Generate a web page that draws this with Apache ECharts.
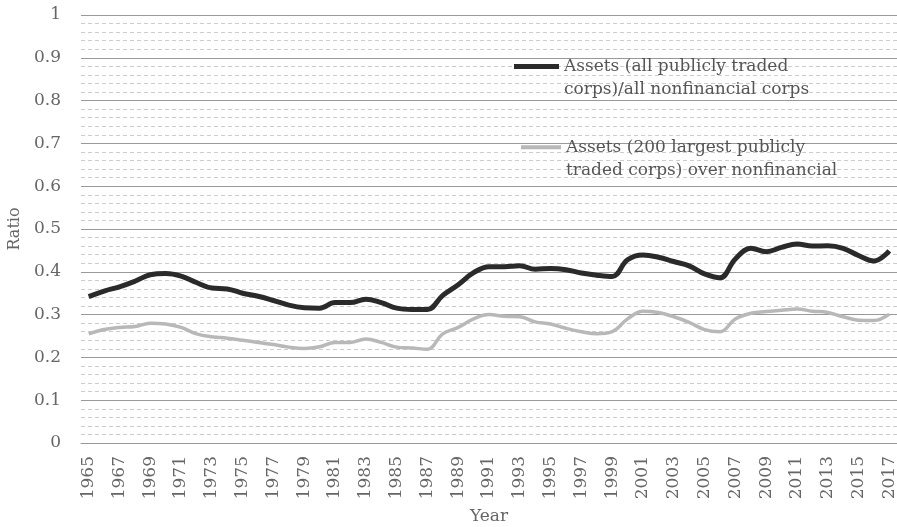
<!DOCTYPE html>
<html>
<head>
<meta charset="utf-8">
<script src="https://cdn.jsdelivr.net/npm/echarts@6/dist/echarts.min.js"></script>
<style>
  html, body { margin: 0; padding: 0; background: #fff; }
  #chart-dom { width: 897px; height: 527px; }
</style>
</head>
<body>
<div id="chart-dom"></div>
<script>
  // years on the x axis
  const years = [];
  for (let y = 1965; y <= 2017; y++) years.push(String(y));

  // Assets (all publicly traded corps)/all nonfinancial corps
  const allTraded = [
    0.342, 0.355, 0.365, 0.378, 0.393, 0.396, 0.390, 0.375, 0.362, 0.360,
    0.350, 0.343, 0.333, 0.322, 0.316, 0.315, 0.328, 0.328, 0.336, 0.328,
    0.315, 0.312, 0.312, 0.345, 0.370, 0.398, 0.412, 0.412, 0.414, 0.406,
    0.408, 0.405, 0.397, 0.392, 0.389, 0.428, 0.439, 0.434, 0.424, 0.414,
    0.395, 0.386, 0.430, 0.455, 0.447, 0.457, 0.465, 0.460, 0.461, 0.455,
    0.438, 0.425, 0.449
  ];

  // Assets (200 largest publicly traded corps) over nonfinancial
  const top200 = [
    0.255, 0.265, 0.270, 0.272, 0.280, 0.278, 0.270, 0.255, 0.248, 0.245,
    0.240, 0.235, 0.230, 0.224, 0.221, 0.225, 0.235, 0.235, 0.243, 0.235,
    0.224, 0.222, 0.219, 0.255, 0.270, 0.290, 0.300, 0.296, 0.295, 0.283,
    0.278, 0.268, 0.260, 0.255, 0.260, 0.290, 0.308, 0.305, 0.295, 0.282,
    0.265, 0.260, 0.290, 0.303, 0.307, 0.310, 0.313, 0.308, 0.305, 0.295,
    0.287, 0.286, 0.301
  ];

  const nameAll = 'Assets (all publicly traded corps)/all nonfinancial corps';
  const nameTop = 'Assets (200 largest publicly traded corps) over nonfinancial';
  const legendText = {};
  legendText[nameAll] = 'Assets (all publicly traded\ncorps)/all nonfinancial corps';
  legendText[nameTop] = 'Assets (200 largest publicly\ntraded corps) over nonfinancial';

  const FONT = 'DejaVu Serif';
  const myChart = echarts.init(document.getElementById('chart-dom'));

  const legendStyle = {
    color: '#555',
    fontFamily: FONT,
    fontSize: 17,
    lineHeight: 23
  };

  // line at the top of a 28px tall box, so the icon sits level with the first text line
  const iconAll = 'path://M0,0H45V5H0Z M44.9,27.9H45V28H44.9Z';
  const iconTop = 'path://M0,0.5H40V4.5H0Z M39.9,27.9H40V28H39.9Z';

  const option = {
    backgroundColor: '#fff',
    animation: false,
    grid: { left: 81, right: 0, top: 15, bottom: 84, outerBoundsMode: 'none' },
    legend: [
      {
        data: [nameAll], left: 514, top: 55, padding: 0,
        icon: iconAll, itemWidth: 45, itemHeight: 28, itemGap: 3,
        formatter: n => legendText[n], textStyle: legendStyle
      },
      {
        data: [nameTop], left: 521, top: 136, padding: 0,
        icon: iconTop, itemWidth: 40, itemHeight: 28, itemGap: 3,
        formatter: n => legendText[n], textStyle: legendStyle
      }
    ],
    xAxis: {
      type: 'category',
      data: years,
      boundaryGap: true,
      name: 'Year',
      nameLocation: 'middle',
      nameGap: 65,
      nameTextStyle: { color: '#666', fontFamily: FONT, fontSize: 17 },
      axisLine: { lineStyle: { color: '#999' } },
      axisTick: { interval: 0, length: 5, lineStyle: { color: '#999' } },
      axisLabel: {
        interval: 1, rotate: 90, margin: 13,
        color: '#666', fontFamily: FONT, fontSize: 17
      }
    },
    yAxis: {
      type: 'value',
      min: 0, max: 1, interval: 0.1,
      name: 'Ratio',
      nameLocation: 'middle',
      nameGap: 58,
      nameTextStyle: { color: '#666', fontFamily: FONT, fontSize: 16 },
      axisLine: { show: false },
      axisTick: { show: false },
      axisLabel: {
        margin: 20, color: '#666', fontFamily: FONT, fontSize: 17,
        formatter: v => String(Math.round(v * 10) / 10)
      },
      splitLine: { lineStyle: { color: '#999', width: 1 } },
      minorTick: { show: false, splitNumber: 5 },
      minorSplitLine: { show: true, lineStyle: { color: '#ccc', type: [4, 3], width: 1 } }
    },
    series: [
      {
        name: nameAll,
        type: 'line',
        data: allTraded,
        smooth: 0.4,
        symbol: 'none',
        color: '#2a2a2a',
        lineStyle: { width: 5, color: '#2a2a2a' }
      },
      {
        name: nameTop,
        type: 'line',
        data: top200,
        smooth: 0.4,
        symbol: 'none',
        color: '#b8b8b8',
        lineStyle: { width: 3.5, color: '#b8b8b8' }
      }
    ]
  };
  myChart.setOption(option, true);
</script>
</body>
</html>
